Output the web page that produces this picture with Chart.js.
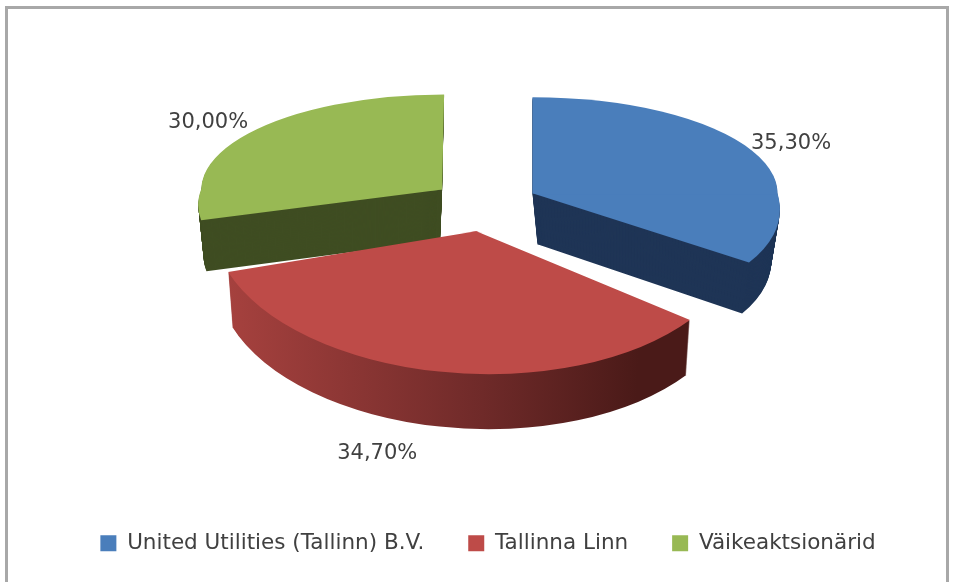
<!DOCTYPE html>
<html>
<head>
<meta charset="utf-8">
<title>Aktsionärid</title>
<script src="https://cdn.jsdelivr.net/npm/chart.js@4"></script>
<style>
  html, body { margin: 0; padding: 0; background: #fff; overflow: hidden; }
  #wrap { position: relative; width: 956px; height: 582px; overflow: hidden; }
  #frame { position: absolute; left: 5px; top: 6px; width: 938px; height: 600px; border: 3px solid #a8a8a8; }
  canvas { position: absolute; left: 0; top: 0; }
</style>
</head>
<body>
<div id="wrap">
  <div id="frame"></div>
  <canvas id="chart" width="956" height="582"></canvas>
</div>
<script>
const categories = ["United Utilities (Tallinn) B.V.", "Tallinna Linn", "Väikeaktsionärid"];
const shares = [35.3, 34.7, 30.0];

const topColors = ["#4a7ebb", "#be4b48", "#98b954"];
const wallColors = ["#1f3556", null, "#3f4d22"];
const textColor = "#404040";
const fontName = "'DejaVu Sans', sans-serif";

// look of the tilted pie
const center = { x: 485, y: 205 };
const explode = 53;
const drawOrder = [0, 2, 1];
// [a, b, c, d]: x = a*ux + b*uy, y = c*ux + d*uy, for the back and front part of each slice
const backShape = [[245, 0, 0, 96], [245, 0, 0, 96], [241, -2, 0, 95]];
const frontShape = [[245, 35, 0, 115], [263, 6.5, 3.4, 143], [241, -38, 0, 100]];
const wallDepth = [51, 55, 51];
const wallShift = [5, 0, -2];
const wallShrink = [0.055, 0.017, 0.03];
const labelOffsets = [[258.6, -50], [-99, 222], [-234, -67]];

function apexOf(arc) {
  const mid = (arc.startAngle + arc.endAngle) / 2;
  return {
    x: center.x + Math.cos(mid) * explode,
    y: center.y + Math.sin(mid) * explode * 0.5
  };
}

function withFill(arc, fill, fn) {
  const original = arc.options;
  const patched = Object.create(original);
  Object.defineProperty(patched, "backgroundColor", { value: fill });
  arc.options = patched;
  fn();
  arc.options = original;
}

// one copy of a slice: back half and front half get a different shape
function drawSliceCopy(ctx, arc, i, x, y, shrink) {
  const r = arc.outerRadius;
  // front first, the back part overlaps it a little so no seam shows
  [[frontShape[i], 0, r * 2], [backShape[i], -r * 2, r * 2 + 3]].forEach(([m, top, h]) => {
    ctx.save();
    ctx.translate(x, y);
    ctx.scale(shrink, 1);
    ctx.transform(m[0] / r, m[2] / r, m[1] / r, m[3] / r, 0, 0);
    ctx.beginPath();
    ctx.rect(-r * 2, top, r * 4, h);
    ctx.clip();
    ctx.translate(-arc.x, -arc.y);
    arc.draw(ctx);
    ctx.restore();
  });
}

const tiltedPie = {
  id: "tiltedPie",
  beforeDatasetDraw(chart) {
    const ctx = chart.ctx;
    const arcs = chart.getDatasetMeta(0).data;
    drawOrder.forEach((i) => {
      const arc = arcs[i];
      const apex = apexOf(arc);
      let wall = wallColors[i];
      if (!wall) {
        // the red side goes darker to the right
        wall = ctx.createLinearGradient(arc.x - arc.outerRadius, 0, arc.x + arc.outerRadius, 0);
        wall.addColorStop(0, "#a8423f");
        wall.addColorStop(0.5, "#6f2a29");
        wall.addColorStop(0.8, "#4a1a18");
        wall.addColorStop(1, "#4a1a18");
      }
      withFill(arc, wall, () => {
        for (let d = wallDepth[i]; d >= 1; d--) {
          const t = d / wallDepth[i];
          drawSliceCopy(ctx, arc, i, apex.x + wallShift[i] * t, apex.y + d, 1 - wallShrink[i] * t);
        }
      });
      drawSliceCopy(ctx, arc, i, apex.x, apex.y, 1);
    });
    return false;
  },
  afterDraw(chart) {
    const ctx = chart.ctx;
    const arcs = chart.getDatasetMeta(0).data;
    ctx.save();
    ctx.font = "21px " + fontName;
    ctx.fillStyle = textColor;
    ctx.textAlign = "center";
    ctx.textBaseline = "middle";
    arcs.forEach((arc, i) => {
      const apex = apexOf(arc);
      const label = shares[i].toFixed(2).replace(".", ",") + "%";
      ctx.fillText(label, apex.x + labelOffsets[i][0], apex.y + labelOffsets[i][1]);
    });
    ctx.restore();
  }
};

new Chart(document.getElementById("chart"), {
  type: "pie",
  data: {
    labels: categories,
    datasets: [{ data: shares, backgroundColor: topColors, borderWidth: 0 }]
  },
  options: {
    responsive: false,
    animation: false,
    layout: { padding: { bottom: 18, left: 20 } },
    events: [],
    plugins: {
      tooltip: { enabled: false },
      legend: {
        position: "bottom",
        labels: {
          boxWidth: 16,
          boxHeight: 16,
          padding: 44,
          color: textColor,
          font: { family: fontName, size: 21.5 }
        }
      }
    }
  },
  plugins: [tiltedPie]
});
</script>
</body>
</html>
